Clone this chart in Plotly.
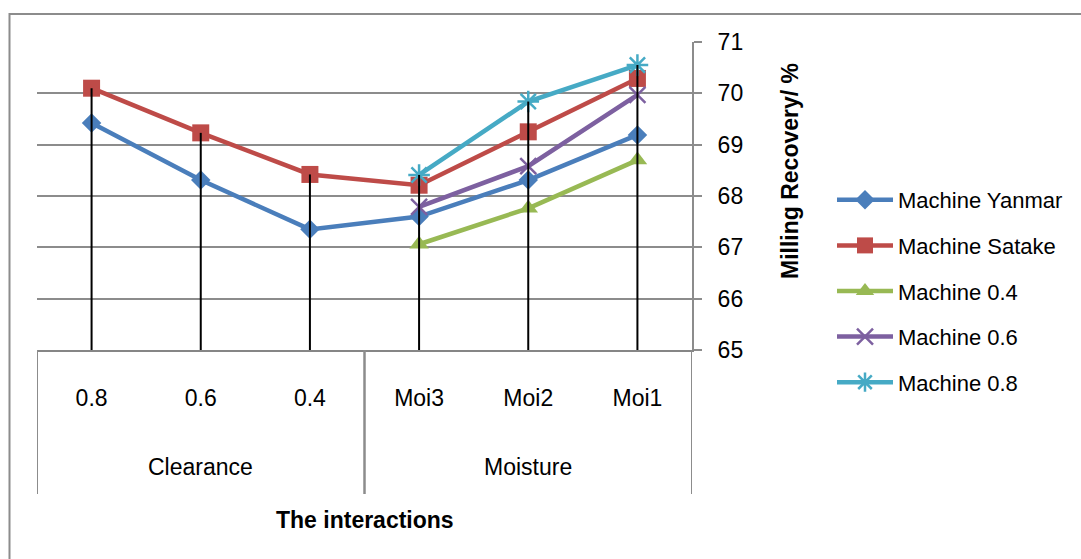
import plotly.graph_objects as go

# ---------------- data ----------------
categories = ["0.8", "0.6", "0.4", "Moi3", "Moi2", "Moi1"]
groups = ["Clearance", "Clearance", "Clearance", "Moisture", "Moisture", "Moisture"]

yanmar = [69.42, 68.31, 67.35, 67.60, 68.31, 69.19]
satake = [70.10, 69.23, 68.42, 68.21, 69.25, 70.29]
m04 = [None, None, None, 67.06, 67.76, 68.70]
m06 = [None, None, None, 67.79, 68.58, 69.97]
m08 = [None, None, None, 68.41, 69.84, 70.55]

series_names = ["Machine Yanmar", "Machine Satake", "Machine 0.4", "Machine 0.6", "Machine 0.8"]
series_values = [yanmar, satake, m04, m06, m08]

Y_MIN, Y_MAX = 65, 71

# ---------------- styles ----------------
colors = ["#4A7EBB", "#BE4B48", "#98B954", "#7D60A0", "#46AAC5"]
symbols = ["diamond", "square", "triangle-up", "x-thin-open", "asterisk-open"]
msizes = [15, 17, 17, 16, 18]

FONT = "Liberation Sans, Arial, sans-serif"
W, H = 1081, 559
ML, MR, MT, MB = 37, W - 692, 42, H - 350
PW, PH = W - ML - MR, H - MT - MB


def px_to_paper_x(px):
    return (px - ML) / PW


def px_to_paper_y(py):
    return (H - MB - py) / PH


xs = list(range(len(categories)))

fig = go.Figure()
for i, (name, vals) in enumerate(zip(series_names, series_values)):
    open_sym = symbols[i].endswith("open")
    fig.add_trace(go.Scatter(
        x=xs, y=vals, name=name, mode="lines+markers",
        legendgroup=name,
        line=dict(color=colors[i], width=4.5),
        marker=dict(symbol=symbols[i], size=msizes[i], color=colors[i],
                    line=dict(color=colors[i], width=2.5 if open_sym else 0)),
        connectgaps=False,
    ))

# drop lines from the highest point of each category down to the axis
dx, dy = [], []
for i in xs:
    vals = [s[i] for s in series_values if s[i] is not None]
    dx += [i, i, None]
    dy += [max(vals), Y_MIN, None]
fig.add_trace(go.Scatter(x=dx, y=dy, mode="lines", showlegend=False,
                         line=dict(color="black", width=2), hoverinfo="skip"))

fig.update_layout(
    width=W, height=H,
    margin=dict(l=ML, r=MR, t=MT, b=MB),
    paper_bgcolor="white", plot_bgcolor="white",
    font=dict(family=FONT, size=23, color="black"),
    showlegend=True,
    legend=dict(x=px_to_paper_x(832), y=px_to_paper_y(291), xanchor="left", yanchor="middle",
                font=dict(size=22), tracegroupgap=14, itemwidth=56,
                bgcolor="rgba(0,0,0,0)"),
    xaxis=dict(range=[-0.5, len(categories) - 0.5], tickvals=xs, ticktext=categories,
               showgrid=False, zeroline=False, showline=True, linecolor="#868686", linewidth=2,
               ticks="", ticklabelstandoff=26, tickfont=dict(size=23)),
    yaxis=dict(range=[Y_MIN, Y_MAX], dtick=1, side="right", showgrid=True,
               gridcolor="#8C8C8C", gridwidth=2, zeroline=False,
               showline=True, linecolor="#8C8C8C", linewidth=2,
               ticks="outside", ticklen=8, tickcolor="#8C8C8C", tickwidth=2,
               ticklabelstandoff=11, tickfont=dict(size=23)),
)

# group labels and dividers
group_names = []
for g in groups:
    if g not in group_names:
        group_names.append(g)
for g in group_names:
    idx = [i for i, gg in enumerate(groups) if gg == g]
    fig.add_annotation(x=sum(idx) / len(idx), y=px_to_paper_y(467), xref="x", yref="paper",
                       text=g, showarrow=False, font=dict(size=23), yanchor="middle")
    for b in (idx[0] - 0.5, idx[-1] + 0.5):
        fig.add_shape(type="line", xref="x", yref="paper", x0=b, x1=b,
                      y0=0, y1=px_to_paper_y(494), line=dict(color="#8C8C8C", width=2))

# axis titles
fig.add_annotation(x=0.5, y=px_to_paper_y(520), xref="paper", yref="paper",
                   text="The interactions", showarrow=False, yanchor="middle",
                   font=dict(size=23, weight="bold"))
fig.add_annotation(x=px_to_paper_x(790), y=px_to_paper_y(171), xref="paper", yref="paper",
                   text="Milling Recovery/ %", textangle=-90, showarrow=False,
                   xanchor="center", yanchor="middle", font=dict(size=23, weight="bold"))

# outer chart border
fig.add_shape(type="rect", xref="paper", yref="paper",
              x0=px_to_paper_x(9.5), x1=px_to_paper_x(W + 10),
              y0=px_to_paper_y(H + 10), y1=px_to_paper_y(14),
              line=dict(color="#8C8C8C", width=2), layer="below")

fig.write_html("out.html")
